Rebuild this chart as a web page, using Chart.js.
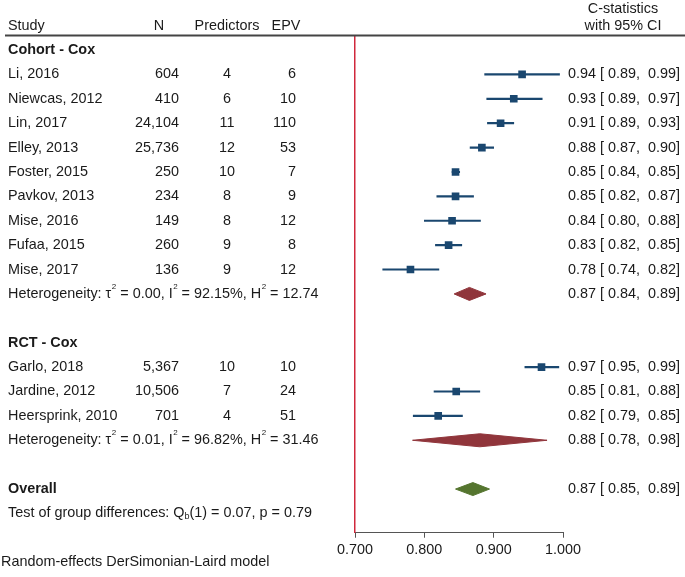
<!DOCTYPE html>
<html>
<head>
<meta charset="utf-8">
<script src="https://cdn.jsdelivr.net/npm/chart.js@4/dist/chart.umd.min.js"></script>
<style>
  html, body { margin: 0; padding: 0; background: #ffffff; }
  #wrap { width: 685px; height: 577px; }
</style>
</head>
<body>
<div id="wrap"><canvas id="c" width="685" height="577"></canvas></div>
<script>
// ---------------- data ----------------
const studies = ["Li, 2016", "Niewcas, 2012", "Lin, 2017", "Elley, 2013", "Foster, 2015", "Pavkov, 2013",
                 "Mise, 2016", "Fufaa, 2015", "Mise, 2017", "Garlo, 2018", "Jardine, 2012", "Heersprink, 2010"];
const studyRows = [1, 2, 3, 4, 5, 6, 7, 8, 9, 13, 14, 15];
const sampleN = ["604", "410", "24,104", "25,736", "250", "234", "149", "260", "136", "5,367", "10,506", "701"];
const predictors = [4, 6, 11, 12, 10, 8, 8, 9, 9, 10, 7, 4];
const epv = [6, 10, 110, 53, 7, 9, 12, 8, 12, 10, 24, 51];
const cstat = [0.941, 0.929, 0.910, 0.883, 0.845, 0.845, 0.840, 0.835, 0.780, 0.969, 0.846, 0.820];
const ciLow = [0.887, 0.890, 0.891, 0.866, 0.840, 0.818, 0.800, 0.816, 0.740, 0.945, 0.814, 0.784];
const ciHigh = [0.995, 0.970, 0.929, 0.900, 0.851, 0.871, 0.881, 0.854, 0.821, 0.994, 0.880, 0.855];
const ciLabels = ["0.94 [ 0.89,  0.99]", "0.93 [ 0.89,  0.97]", "0.91 [ 0.89,  0.93]", "0.88 [ 0.87,  0.90]",
                  "0.85 [ 0.84,  0.85]", "0.85 [ 0.82,  0.87]", "0.84 [ 0.80,  0.88]", "0.83 [ 0.82,  0.85]",
                  "0.78 [ 0.74,  0.82]", "0.97 [ 0.95,  0.99]", "0.85 [ 0.81,  0.88]", "0.82 [ 0.79,  0.85]"];

const groupNames = ["Cohort - Cox", "RCT - Cox", "Overall"];
const groupRows = [0, 12, 18];

const summaryRows = [10, 16, 18];
const summaryEst = [0.865, 0.880, 0.870];
const summaryLow = [0.843, 0.783, 0.845];
const summaryHigh = [0.889, 0.977, 0.894];
const summaryLabels = ["0.87 [ 0.84,  0.89]", "0.88 [ 0.78,  0.98]", "0.87 [ 0.85,  0.89]"];

const hetRows = [10, 16];
const hetTau2 = ["0.00", "0.01"];
const hetI2 = ["92.15%", "96.82%"];
const hetH2 = ["12.74", "31.46"];

const testRow = 19;
const testQ = "0.07";
const testP = "0.79";

const xTicks = [0.7, 0.8, 0.9, 1.0];

// ---------------- styles ----------------
const FONT = '"Liberation Sans", Arial, Helvetica, sans-serif';
const FS = 14.4;
const TXT = '#1a1a1a';
const NAVY = '#1a476f';
const MAROON = '#90353b';
const GREEN = '#55752f';
const REDLINE = '#d0283c';
const DIAMOND_HALF = 0.267;
const summaryColors = [MAROON, MAROON, GREEN];

// ---------------- datasets ----------------
const datasets = [];
datasets.push({
  type: 'bar',
  indexAxis: 'y',
  data: studyRows.map((r, i) => ({ y: r, x: [ciLow[i], ciHigh[i]] })),
  backgroundColor: NAVY,
  borderWidth: 0,
  barThickness: 1.5,
  order: 3
});
datasets.push({
  type: 'scatter',
  data: studyRows.map((r, i) => ({ x: cstat[i], y: r })),
  pointStyle: 'rect',
  pointRadius: 5.4,
  backgroundColor: NAVY,
  borderWidth: 0,
  order: 1
});
summaryRows.forEach((r, k) => {
  datasets.push({
    type: 'scatter',
    showLine: true,
    data: [
      { x: summaryLow[k], y: r },
      { x: summaryEst[k], y: r - DIAMOND_HALF },
      { x: summaryHigh[k], y: r },
      { x: summaryEst[k], y: r + DIAMOND_HALF },
      { x: summaryLow[k], y: r }
    ],
    borderColor: summaryColors[k],
    backgroundColor: summaryColors[k],
    borderWidth: 1,
    pointRadius: 0,
    fill: 'shape',
    tension: 0,
    order: 2
  });
});

// ---------------- text plugin ----------------
function richText(ctx, x, y, parts) {
  // parts: [text, mode] mode: 0 normal, 1 superscript, 2 subscript
  let cx = x;
  parts.forEach(([t, m]) => {
    if (m === 1) {
      ctx.font = `8px ${FONT}`;
      ctx.fillText(t, cx + 0.5, y - 7);
      cx += ctx.measureText(t).width + 0.5;
    } else if (m === 2) {
      ctx.font = `9px ${FONT}`;
      ctx.fillText(t, cx, y + 3);
      cx += ctx.measureText(t).width;
    } else {
      ctx.font = `${FS}px ${FONT}`;
      ctx.fillText(t, cx, y);
      cx += ctx.measureText(t).width;
    }
  });
}

const textPlugin = {
  id: 'forestText',
  afterDraw(chart) {
    const ctx = chart.ctx;
    const ys = chart.scales.y;
    const area = chart.chartArea;
    ctx.save();
    ctx.fillStyle = TXT;
    ctx.textBaseline = 'middle';

    // header
    ctx.font = `${FS}px ${FONT}`;
    ctx.textAlign = 'left';
    ctx.fillText('Study', 8, 26);
    ctx.textAlign = 'center';
    ctx.fillText('N', 159, 26);
    ctx.fillText('Predictors', 227, 26);
    ctx.fillText('EPV', 286, 26);
    ctx.fillText('C-statistics', 623, 9);
    ctx.fillText('with 95% CI', 623, 26);

    // header rule
    ctx.strokeStyle = '#444444';
    ctx.lineWidth = 2;
    ctx.beginPath();
    ctx.moveTo(5, area.top - 0.5);
    ctx.lineTo(685, area.top - 0.5);
    ctx.stroke();

    // group headings
    ctx.font = `bold ${FS}px ${FONT}`;
    ctx.textAlign = 'left';
    groupRows.forEach((r, k) => ctx.fillText(groupNames[k], 8, ys.getPixelForValue(r)));

    // study rows
    ctx.font = `${FS}px ${FONT}`;
    studyRows.forEach((r, i) => {
      const y = ys.getPixelForValue(r);
      ctx.textAlign = 'left';
      ctx.fillText(studies[i], 8, y);
      ctx.textAlign = 'right';
      ctx.fillText(sampleN[i], 179, y);
      ctx.textAlign = 'center';
      ctx.fillText(String(predictors[i]), 227, y);
      ctx.textAlign = 'right';
      ctx.fillText(String(epv[i]), 296, y);
      ctx.textAlign = 'left';
      ctx.fillText(ciLabels[i], 568, y);
    });

    // summary labels
    ctx.textAlign = 'left';
    summaryRows.forEach((r, k) => ctx.fillText(summaryLabels[k], 568, ys.getPixelForValue(r)));

    // heterogeneity
    hetRows.forEach((r, k) => {
      richText(ctx, 8, ys.getPixelForValue(r), [
        ['Heterogeneity: \u03C4', 0], ['2', 1], [' = ' + hetTau2[k] + ', I', 0], ['2', 1],
        [' = ' + hetI2[k] + ', H', 0], ['2', 1], [' = ' + hetH2[k], 0]
      ]);
    });

    // test of group differences
    richText(ctx, 8, ys.getPixelForValue(testRow), [
      ['Test of group differences: Q', 0], ['b', 2], ['(1) = ' + testQ + ', p = ' + testP, 0]
    ]);

    // footnote
    ctx.font = `${FS}px ${FONT}`;
    ctx.textAlign = 'left';
    ctx.fillText('Random-effects DerSimonian-Laird model', 1, 562);
    ctx.restore();
  }
};

new Chart(document.getElementById('c'), {
  type: 'scatter',
  data: { datasets },
  options: {
    responsive: false,
    devicePixelRatio: 1,
    animation: false,
    layout: { padding: { top: 36, left: 355, right: 122, bottom: 14 } },
    plugins: { legend: { display: false }, tooltip: { enabled: false } },
    scales: {
      x: {
        type: 'linear',
        min: xTicks[0],
        max: xTicks[xTicks.length - 1],
        offset: false,
        afterBuildTicks: (s) => { s.ticks = xTicks.map(v => ({ value: v })); },
        ticks: {
          callback: (v) => Number(v).toFixed(3),
          color: TXT,
          font: { family: FONT, size: FS },
          padding: 4,
          maxRotation: 0
        },
        grid: { drawOnChartArea: false, drawTicks: true, tickLength: 5, color: '#555555' },
        border: { display: true, color: '#555555', width: 1 }
      },
      y: {
        type: 'linear',
        reverse: true,
        offset: false,
        min: -0.575,
        max: 19.79,
        ticks: { display: false },
        grid: { display: false, drawTicks: false },
        border: { display: true, color: REDLINE, width: 1.5 }
      }
    }
  },
  plugins: [textPlugin]
});
</script>
</body>
</html>
